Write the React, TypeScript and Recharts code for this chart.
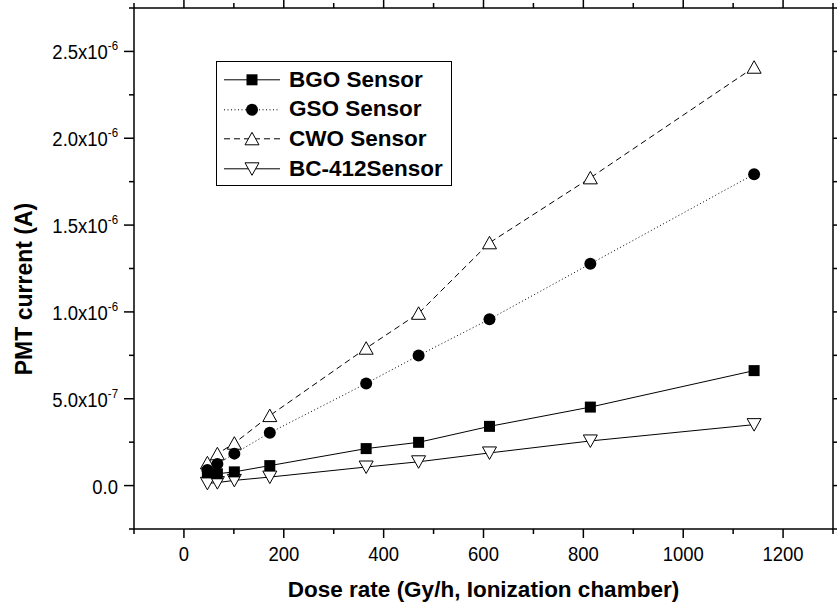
import React from "react";
import { LineChart, Line, XAxis, YAxis, Legend } from "recharts";

// dose rate (Gy/h) measured by the ionization chamber, shared by all sensors
const doseRates = [47, 67, 101, 172, 365, 470, 612, 814, 1142];

// PMT current (A) per sensor
const bgoCurrent = [0.073e-6, 0.068e-6, 0.079e-6, 0.115e-6, 0.213e-6, 0.249e-6, 0.341e-6, 0.452e-6, 0.662e-6];
const gsoCurrent = [0.09e-6, 0.125e-6, 0.184e-6, 0.304e-6, 0.588e-6, 0.749e-6, 0.958e-6, 1.277e-6, 1.793e-6];
const cwoCurrent = [0.131e-6, 0.183e-6, 0.244e-6, 0.403e-6, 0.791e-6, 0.992e-6, 1.398e-6, 1.772e-6, 2.409e-6];
const bc412Current = [0.013e-6, 0.017e-6, 0.03e-6, 0.049e-6, 0.107e-6, 0.137e-6, 0.188e-6, 0.257e-6, 0.351e-6];

const xTicks = [-100, 0, 100, 200, 300, 400, 500, 600, 700, 800, 900, 1000, 1100, 1200, 1300];
const xTickLabels = ["", "0", "", "200", "", "400", "", "600", "", "800", "", "1000", "", "1200", ""];

const yTicks = [-2.5e-7, 0, 2.5e-7, 5e-7, 7.5e-7, 1e-6, 1.25e-6, 1.5e-6, 1.75e-6, 2e-6, 2.25e-6, 2.5e-6, 2.75e-6];
const yTickLabels = ["", "0.0", "", "5.0x10|-7", "", "1.0x10|-6", "", "1.5x10|-6", "", "2.0x10|-6", "", "2.5x10|-6", ""];

const FONT = "'Liberation Sans', Arial, Helvetica, sans-serif";

const toPoints = (ys: number[]) => doseRates.map((x, i) => ({ x, y: ys[i] }));

// markers
const Square = ({ cx, cy }: any) => <rect x={cx - 5.5} y={cy - 5.5} width={11} height={11} fill="#000" />;
const Circle = ({ cx, cy }: any) => <circle cx={cx} cy={cy} r={6} fill="#000" />;
const TriUp = ({ cx, cy }: any) => (
  <polygon points={`${cx},${cy - 6.5} ${cx + 7},${cy + 6} ${cx - 7},${cy + 6}`} fill="#fff" stroke="#000" strokeWidth={1} />
);
const TriDown = ({ cx, cy }: any) => (
  <polygon points={`${cx - 7},${cy - 6} ${cx + 7},${cy - 6} ${cx},${cy + 6.5}`} fill="#fff" stroke="#000" strokeWidth={1} />
);

const series = [
  { name: "BC-412Sensor", data: bc412Current, dash: undefined, Marker: TriDown },
  { name: "CWO Sensor", data: cwoCurrent, dash: "6 4", Marker: TriUp },
  { name: "GSO Sensor", data: gsoCurrent, dash: "1 2.5", Marker: Circle },
  { name: "BGO Sensor", data: bgoCurrent, dash: undefined, Marker: Square },
];
const legendOrder = ["BGO Sensor", "GSO Sensor", "CWO Sensor", "BC-412Sensor"];

const BottomTick = (props: any) => {
  const { x, y, index } = props;
  const label = xTickLabels[index];
  const major = label !== "";
  return (
    <g>
      <line x1={x} y1={y} x2={x} y2={y + (major ? 9 : 5)} stroke="#000" strokeWidth={1.5} />
      {major && (
        <text transform={`translate(${x},${y + 32}) scale(0.88,1)`} textAnchor="middle" fontSize={21} fontFamily={FONT} fill="#000">
          {label}
        </text>
      )}
    </g>
  );
};

const TopTick = (props: any) => {
  const { x, y, index } = props;
  const major = xTickLabels[index] !== "";
  return <line x1={x} y1={y} x2={x} y2={y - (major ? 9 : 5)} stroke="#000" strokeWidth={1.5} />;
};

const LeftTick = (props: any) => {
  const { x, y, index } = props;
  const label = yTickLabels[index];
  const major = label !== "";
  const [base, exp] = label.split("|");
  return (
    <g>
      <line x1={x} y1={y} x2={x - (major ? 10 : 5)} y2={y} stroke="#000" strokeWidth={1.5} />
      {major && (
        <text transform={`translate(${x - 16},${y + 8}) scale(0.88,1)`} textAnchor="end" fontSize={21} fontFamily={FONT} fill="#000">
          {base}
          {exp && (
            <tspan dy={-9} fontSize={13}>
              {exp}
            </tspan>
          )}
        </text>
      )}
    </g>
  );
};

const RightTick = (props: any) => {
  const { x, y, index } = props;
  const major = yTickLabels[index] !== "";
  return <line x1={x} y1={y} x2={x + (major ? 9 : 5)} y2={y} stroke="#000" strokeWidth={1.5} />;
};

const LegendBox = () => (
  <div
    style={{
      border: "1.5px solid #000",
      background: "#fff",
      width: 236,
      height: 125,
      boxSizing: "border-box",
      paddingTop: 3,
      fontFamily: FONT,
    }}
  >
    {legendOrder.map((name) => {
      const s = series.find((d) => d.name === name)!;
      const M = s.Marker;
      return (
        <div key={name} style={{ display: "flex", alignItems: "center", height: 29.6 }}>
          <svg width={72} height={29.6} style={{ flex: "none" }}>
            <line x1={7} y1={14.8} x2={63} y2={14.8} stroke="#000" strokeWidth={1} strokeDasharray={s.dash} />
            <M cx={35} cy={14.8} />
          </svg>
          <span style={{ fontSize: 22.5, fontWeight: "bold", color: "#000", letterSpacing: 0 }}>{name}</span>
        </div>
      );
    })}
  </div>
);

export default function App() {
  return (
    <div style={{ position: "absolute", left: 0, top: 0, width: 837, height: 614, background: "#fff" }}>
      <LineChart width={837} height={614} margin={{ top: 0, right: 0, bottom: 0, left: 0 }}>
        <XAxis
          xAxisId="b"
          type="number"
          dataKey="x"
          domain={[-100, 1300]}
          ticks={xTicks}
          interval={0}
          height={85}
          tickSize={0}
          tickMargin={0}
          tickLine={false}
          tick={BottomTick}
          axisLine={{ stroke: "#000", strokeWidth: 1.5 }}
          allowDataOverflow
          label={{
            content: () => (
              <text x={483.5} y={597} textAnchor="middle" fontSize={22.5} fontWeight="bold" fontFamily={FONT} fill="#000">
                Dose rate (Gy/h, Ionization chamber)
              </text>
            ),
          }}
        />
        <XAxis
          xAxisId="t"
          orientation="top"
          type="number"
          dataKey="x"
          domain={[-100, 1300]}
          ticks={xTicks}
          interval={0}
          height={8}
          tickSize={0}
          tickMargin={0}
          tickLine={false}
          tick={TopTick}
          axisLine={{ stroke: "#000", strokeWidth: 1.5 }}
          allowDataOverflow
        />
        <YAxis
          yAxisId="l"
          type="number"
          dataKey="y"
          domain={[-2.5e-7, 2.75e-6]}
          ticks={yTicks}
          interval={0}
          width={134}
          tickSize={0}
          tickMargin={0}
          tickLine={false}
          tick={LeftTick}
          axisLine={{ stroke: "#000", strokeWidth: 1.5 }}
          allowDataOverflow
          label={{
            content: () => (
              <text x={24} y={289} transform="rotate(-90 24 289)" textAnchor="middle" dominantBaseline="central" fontSize={23} fontWeight="bold" fontFamily={FONT} fill="#000">
                PMT current (A)
              </text>
            ),
          }}
        />
        <YAxis
          yAxisId="r"
          orientation="right"
          type="number"
          dataKey="y"
          domain={[-2.5e-7, 2.75e-6]}
          ticks={yTicks}
          interval={0}
          width={4}
          tickSize={0}
          tickMargin={0}
          tickLine={false}
          tick={RightTick}
          axisLine={{ stroke: "#000", strokeWidth: 1.5 }}
          allowDataOverflow
        />
        {series.map((s) => (
          <Line
            key={s.name}
            xAxisId="b"
            yAxisId="l"
            name={s.name}
            data={toPoints(s.data)}
            dataKey="y"
            type="linear"
            stroke="#000"
            strokeWidth={1}
            strokeDasharray={s.dash}
            dot={(p: any) => <s.Marker key={`${s.name}-${p.index}`} cx={p.cx} cy={p.cy} />}
            activeDot={false}
            isAnimationActive={false}
          />
        ))}
        <Legend
          layout="vertical"
          align="center"
          verticalAlign="middle"
          content={() => <LegendBox />}
          wrapperStyle={{ left: 216, top: 61, width: 236, height: 125 }}
        />
      </LineChart>
    </div>
  );
}
